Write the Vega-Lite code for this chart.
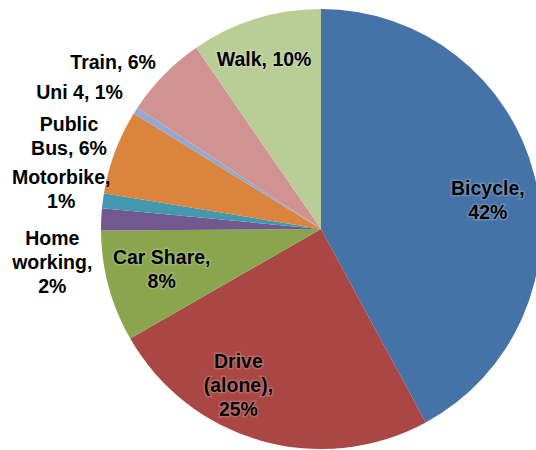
{
  "$schema": "https://vega.github.io/schema/vega-lite/v6.json",
  "autosize": {"type": "none"},
  "width": 430,
  "height": 442,
  "padding": {"left": 106, "top": 8, "right": 0, "bottom": 0},
  "background": "white",
  "config": {
    "view": {"stroke": null},
    "text": {"font": "Liberation Sans", "fontWeight": "bold", "fontSize": 19.5, "lineBreak": "\n", "lineHeight": 24, "align": "center", "baseline": "middle"}
  },
  "data": {"values": [
    {"category": "Bicycle", "value": 42.1, "order": 1, "label": "Bicycle,\n42%"},
    {"category": "Drive (alone)", "value": 24.6, "order": 2, "label": "Drive\n(alone),\n25%"},
    {"category": "Car Share", "value": 8.2, "order": 3, "label": "Car Share,\n8%"},
    {"category": "Home working", "value": 1.6, "order": 4, "label": "Home\nworking,\n2%"},
    {"category": "Motorbike", "value": 1.1, "order": 5, "label": "Motorbike,\n1%"},
    {"category": "Public Bus", "value": 6.2, "order": 6, "label": "Public\nBus, 6%"},
    {"category": "Uni 4", "value": 0.5, "order": 7, "label": "Uni 4, 1%"},
    {"category": "Train", "value": 6.1, "order": 8, "label": "Train, 6%"},
    {"category": "Walk", "value": 9.6, "order": 9, "label": "Walk, 10%"}
  ]},
  "encoding": {
    "theta": {"field": "value", "type": "quantitative", "stack": true},
    "order": {"field": "order", "type": "quantitative"}
  },
  "layer": [
    {
      "mark": {"type": "arc", "outerRadius": 220, "stroke": null},
      "encoding": {
        "color": {
          "field": "category", "type": "nominal", "legend": null,
          "scale": {
            "domain": ["Bicycle", "Drive (alone)", "Car Share", "Home working", "Motorbike", "Public Bus", "Uni 4", "Train", "Walk"],
            "range": ["#4572A7", "#AA4643", "#89A54E", "#71588F", "#4198AF", "#DB843D", "#93A9CF", "#D19392", "#B9CD96"]
          }
        }
      }
    },
    {
      "encoding": {"text": {"condition": {"test": "datum.category === 'Bicycle'", "field": "label"}, "value": ""}},
      "layer": [
        {"mark": {"type": "text", "radius": 169, "dx": 3, "dy": 2, "color": "white", "stroke": "white", "strokeWidth": 3, "strokeOpacity": 0.35, "opacity": 0.5}},
        {"mark": {"type": "text", "radius": 169, "dx": 3, "dy": 2, "color": "black"}}
      ]
    },
    {
      "encoding": {"text": {"condition": {"test": "datum.category === 'Drive (alone)'", "field": "label"}, "value": ""}},
      "layer": [
        {"mark": {"type": "text", "radius": 178, "dx": -34, "dy": -38, "color": "white", "stroke": "white", "strokeWidth": 3, "strokeOpacity": 0.35, "opacity": 0.5}},
        {"mark": {"type": "text", "radius": 178, "dx": -34, "dy": -38, "color": "black"}}
      ]
    },
    {
      "encoding": {"text": {"condition": {"test": "datum.category === 'Car Share'", "field": "label"}, "value": ""}},
      "layer": [
        {"mark": {"type": "text", "radius": 165, "dx": 0, "dy": -14, "color": "white", "stroke": "white", "strokeWidth": 3, "strokeOpacity": 0.35, "opacity": 0.5}},
        {"mark": {"type": "text", "radius": 165, "dx": 0, "dy": -14, "color": "black"}}
      ]
    },
    {
      "encoding": {"text": {"condition": {"test": "datum.category === 'Home working'", "field": "label"}, "value": ""}},
      "layer": [
        {"mark": {"type": "text", "radius": 271, "dx": 2, "dy": 22, "color": "black"}}
      ]
    },
    {
      "encoding": {"text": {"condition": {"test": "datum.category === 'Motorbike'", "field": "label"}, "value": ""}},
      "layer": [
        {"mark": {"type": "text", "radius": 263, "dx": 1, "dy": -17, "color": "black"}}
      ]
    },
    {
      "encoding": {"text": {"condition": {"test": "datum.category === 'Public Bus'", "field": "label"}, "value": ""}},
      "layer": [
        {"mark": {"type": "text", "radius": 268, "dx": -1, "dy": -10, "color": "black"}}
      ]
    },
    {
      "encoding": {"text": {"condition": {"test": "datum.category === 'Uni 4'", "field": "label"}, "value": ""}},
      "layer": [
        {"mark": {"type": "text", "radius": 277, "dx": -8, "dy": 13, "color": "black"}}
      ]
    },
    {
      "encoding": {"text": {"condition": {"test": "datum.category === 'Train'", "field": "label"}, "value": ""}},
      "layer": [
        {"mark": {"type": "text", "radius": 266, "dx": -18, "dy": 20, "color": "black"}}
      ]
    },
    {
      "encoding": {"text": {"condition": {"test": "datum.category === 'Walk'", "field": "label"}, "value": ""}},
      "layer": [
        {"mark": {"type": "text", "radius": 178, "dx": -4, "dy": 1, "color": "white", "stroke": "white", "strokeWidth": 3, "strokeOpacity": 0.35, "opacity": 0.5}},
        {"mark": {"type": "text", "radius": 178, "dx": -4, "dy": 1, "color": "black"}}
      ]
    }
  ]
}
